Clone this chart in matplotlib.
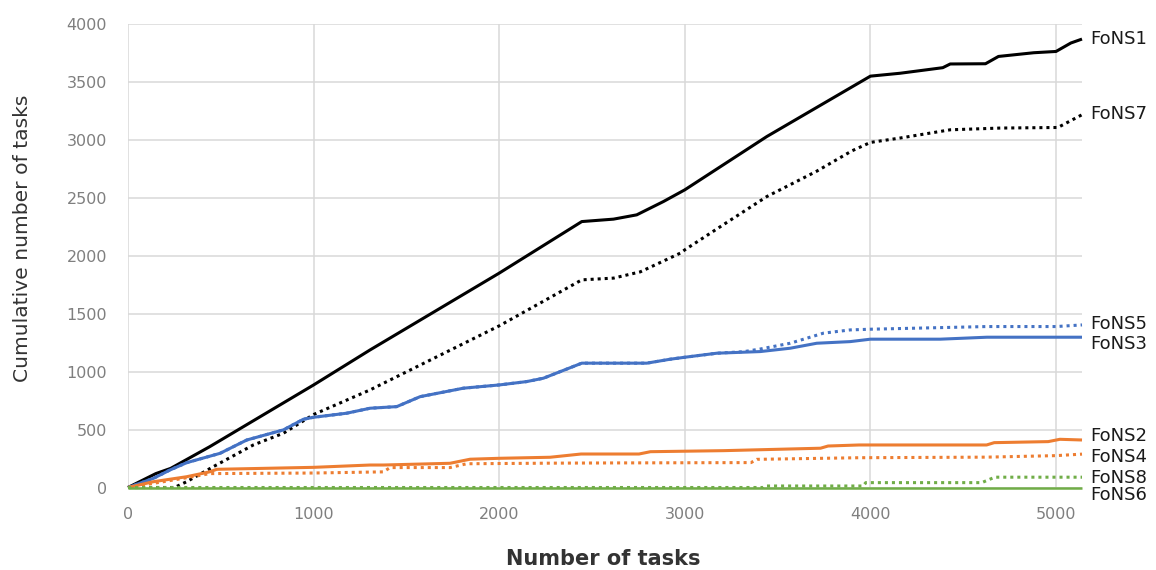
import matplotlib
matplotlib.use("Agg")
import matplotlib.pyplot as plt

# Cumulative task counts per FoNS node (x: number of tasks processed)
fons1_x = [0, 150, 230, 440, 1000, 1304, 2000, 2445, 2616, 2741, 2885, 3000, 3442, 4000,
           4160, 4390, 4430, 4620, 4690, 4880, 5000, 5080, 5140]
fons1_y = [0, 120, 165, 352, 885, 1187, 1850, 2295, 2316, 2353, 2468, 2569, 3029, 3550,
           3575, 3623, 3655, 3657, 3720, 3752, 3763, 3836, 3870]

fons7_x = [0, 250, 316, 460, 675, 837, 1000, 1304, 2000, 2445, 2616, 2760, 2975, 3000,
           3226, 3442, 3711, 3900, 4000, 4160, 4430, 4700, 5010, 5140]
fons7_y = [0, 0, 50, 180, 367, 468, 630, 842, 1395, 1792, 1807, 1861, 2022, 2051,
           2287, 2511, 2730, 2905, 2978, 3016, 3087, 3102, 3107, 3217]

fons3_x = [0, 137, 226, 316, 496, 640, 837, 945, 1000, 1178, 1304, 1448, 1574, 1807,
           2000, 2148, 2238, 2445, 2795, 2921, 3000, 3173, 3406, 3568, 3711, 3891,
           4000, 4376, 4628, 5140]
fons3_y = [0, 79, 151, 214, 295, 410, 497, 589, 606, 641, 684, 698, 784, 857,
           885, 914, 943, 1073, 1073, 1107, 1124, 1159, 1173, 1202, 1245, 1259,
           1280, 1280, 1297, 1297]

fons5_x = [0, 137, 226, 316, 496, 640, 837, 945, 1000, 1178, 1304, 1448, 1574, 1807,
           2000, 2148, 2238, 2445, 2795, 2921, 3000, 3173, 3316, 3406, 3568, 3747,
           3891, 4000, 4628, 5000, 5140]
fons5_y = [0, 79, 151, 214, 295, 410, 497, 589, 606, 641, 684, 698, 784, 857,
           885, 914, 943, 1073, 1073, 1107, 1124, 1159, 1172, 1195, 1245, 1332,
           1360, 1366, 1389, 1389, 1403]

fons2_x = [0, 137, 316, 442, 478, 1000, 1304, 1376, 1735, 1843, 2000, 2274, 2441,
           2753, 2815, 3210, 3731, 3772, 3939, 4626, 4667, 4958, 5021, 5140]
fons2_y = [0, 50, 93, 136, 157, 174, 194, 194, 209, 244, 252, 261, 289,
           289, 309, 318, 339, 358, 367, 367, 387, 396, 416, 410]

fons4_x = [0, 172, 300, 442, 1000, 1376, 1412, 1735, 1825, 2274, 2600, 3357, 3388,
           3939, 4626, 5000, 5140]
fons4_y = [0, 45, 80, 120, 125, 135, 172, 172, 205, 210, 212, 215, 243,
           257, 262, 275, 288]

fons8_x = [0, 3420, 3430, 3960, 3975, 4600, 4670, 5140]
fons8_y = [0, 0, 13, 13, 42, 42, 89, 89]

fons6_x = [0, 5140]
fons6_y = [0, 0]

x_ticks = [0, 1000, 2000, 3000, 4000, 5000]
y_ticks = [0, 500, 1000, 1500, 2000, 2500, 3000, 3500, 4000]

BLACK = "#000000"
BLUE = "#4472C4"
ORANGE = "#ED7D31"
GREEN = "#70AD47"
DOT = (0, (1, 1.3))

# name, x, y, colour, linestyle, linewidth, label offset (pixels, vertical)
series = [
    ("FoNS1", fons1_x, fons1_y, BLACK, "-", 2.2, 2.5),
    ("FoNS7", fons7_x, fons7_y, BLACK, DOT, 2.2, 2.3),
    ("FoNS5", fons5_x, fons5_y, BLUE, DOT, 2.2, 2.5),
    ("FoNS3", fons3_x, fons3_y, BLUE, "-", 2.2, -5.0),
    ("FoNS2", fons2_x, fons2_y, ORANGE, "-", 2.2, 6.3),
    ("FoNS4", fons4_x, fons4_y, ORANGE, DOT, 2.2, -1.0),
    ("FoNS8", fons8_x, fons8_y, GREEN, DOT, 2.2, 0.7),
    ("FoNS6", fons6_x, fons6_y, GREEN, "-", 1.8, -5.8),
]

W, H = 1156, 570
fig = plt.figure(figsize=(W / 100, H / 100), dpi=100)
ax = fig.add_axes([128 / W, 82.5 / H, 954 / W, 463.5 / H])

for name, xs, ys, col, ls, lw, dy in series:
    ax.plot(xs, ys, color=col, linestyle=ls, linewidth=lw, clip_on=False,
            dash_capstyle="butt", solid_capstyle="butt", zorder=3)
    ax.annotate(name, xy=(xs[-1], ys[-1]), xytext=(8, dy),
                textcoords="offset pixels", va="center_baseline", ha="left",
                fontsize=13, color="#1a1a1a", family="DejaVu Sans",
                annotation_clip=False)

ax.set_xlim(0, 5140)
ax.set_ylim(0, 4000)
ax.set_xticks(x_ticks)
ax.set_yticks(y_ticks)
ax.grid(True, color="#d9d9d9", linewidth=1.1, zorder=0)
ax.set_axisbelow(True)
for s in ax.spines.values():
    s.set_visible(False)
ax.tick_params(length=0, labelsize=11.5, labelcolor="#7f7f7f")
ax.tick_params(axis="y", pad=15)
ax.tick_params(axis="x", pad=14)

# Axis titles
fig.text(603 / W, 1 - 559 / H, "Number of tasks", ha="center", va="center",
         fontsize=15, fontweight="bold", color="#333333")
fig.text(23 / W, 1 - 238 / H, "Cumulative number of tasks", ha="center", va="center",
         rotation=90, fontsize=14.6, color="#333333")

fig.savefig("out.png", dpi=100)
